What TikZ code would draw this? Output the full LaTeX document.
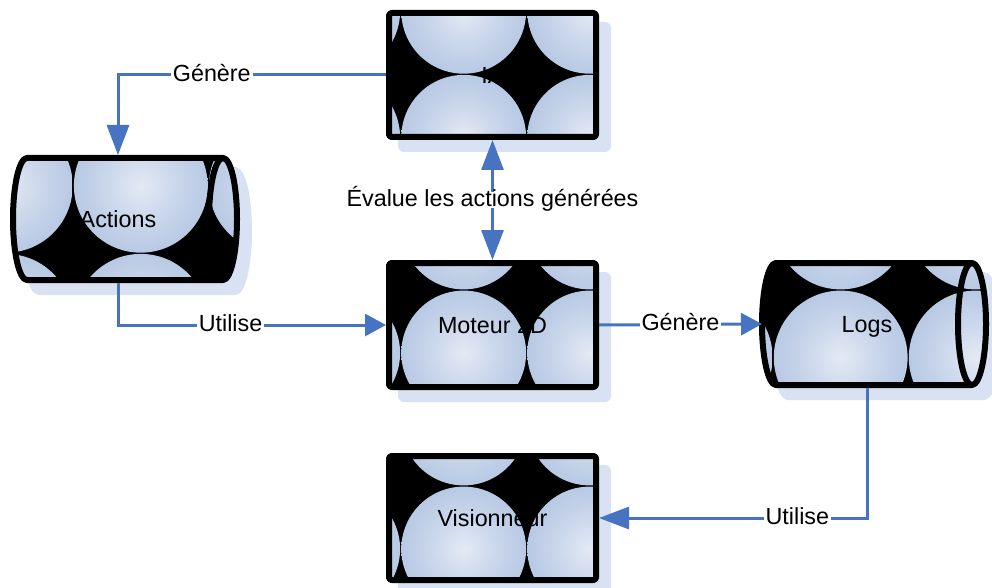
\documentclass[tikz,border=0pt]{standalone}
\usepackage{fontspec}
\setmainfont{Liberation Sans}
\usetikzlibrary{arrows.meta,backgrounds}

\definecolor{lienbleu}{RGB}{70,116,193}
\definecolor{ombrebleue}{RGB}{217,226,242}
\definecolor{bullecentre}{RGB}{228,234,245}
\definecolor{bullemilieu}{RGB}{204,216,236}
\definecolor{bullebord}{RGB}{184,201,228}
\pgfdeclareradialshading{bulle}{\pgfpoint{0bp}{0bp}}{color(0bp)=(bullecentre); color(12bp)=(bullemilieu); color(25bp)=(bullebord); color(50bp)=(bullebord)}

\tikzset{every picture/.style={line width=0.75pt}}

\begin{document}
\begin{tikzpicture}[x=0.75pt,y=0.75pt,yscale=-1,xscale=1,
  boite/.style={rectangle, inner sep=0pt, outer sep=0pt, minimum width=159.75pt, minimum height=97.5pt, text height=12.5pt, text depth=0pt, font=\fontsize{17.5}{21}\selectfont},
  tonneau/.style={boite, minimum width=157.5pt, minimum height=96pt},
  lien/.style={draw=lienbleu, line width=2.25pt, -{Triangle[length=22.5pt,width=16.5pt]}},
  lien court/.style={lien, -{Triangle[length=15.75pt,width=16.5pt]}},
  etiquette/.style={fill=white, inner sep=1.5pt, text height=9.1pt, text depth=0pt, font=\fontsize{17.5}{21}\selectfont},
  bord/.style={draw=black, line width=4.5pt, line join=round},
  ombre/.style={fill=ombrebleue, draw=ombrebleue, line width=4.5pt, line join=round}]
  \useasboundingbox (0,0) rectangle (992,588);

  % blocs
  \node[boite] (ia) at (492.5,75) {IA};
  \node[boite] (moteur) at (492.5,325) {Moteur 2D};
  \node[boite] (vision) at (492.5,518) {Visionneur};
  \node[tonneau] (actions) at (118,219) {Actions};
  \node[tonneau] (logs) at (867,324) {Logs};

  \begin{scope}[on background layer]
    % rectangles : ombre, texture de bulles, contour
    \foreach \n/\gx/\gy in {ia/34.2/-0.7, moteur/34.2/-35, vision/34.2/-32}{
      \begin{scope}[shift={(\n.center)}]
        \draw[ombre, rounded corners=2] (-91.5,-50) rectangle (115.5,74);
        \begin{scope}
          \clip (-103.5,-62) rectangle (103.5,62);
          \fill[black] (-110,-70) rectangle (110,70);
          \foreach \i in {-1.5,-0.5,0.5,1.5}
            \foreach \j in {-1.5,-0.5,0.5,1.5}
              \shade[shading=bulle] ({\gx+126*\i},{\gy+126*\j}) circle (62.4);
        \end{scope}
        \draw[bord, rounded corners=2] (-103.5,-62) rectangle (103.5,62);
      \end{scope}
    }
    % cylindres couches
    \foreach \n/\gx/\gy in {actions/-44.7/34.3, logs/41.2/-34}{
      \begin{scope}[shift={(\n.center)}]
        \draw[ombre] (-79,-49) -- (117,-49) arc[start angle=-90, end angle=90, x radius=14, y radius=61] -- (-79,73) arc[start angle=90, end angle=270, x radius=14, y radius=61] -- cycle;
        \begin{scope}
          \clip (-91,-61) -- (105,-61) arc[start angle=-90, end angle=90, x radius=14, y radius=61] -- (-91,61) arc[start angle=90, end angle=270, x radius=14, y radius=61] -- cycle;
          \fill[black] (-110,-70) rectangle (125,70);
          \foreach \i in {-1.5,-0.5,0.5,1.5}
            \foreach \j in {-1.5,-0.5,0.5,1.5}
              \shade[shading=bulle] ({\gx+135*\i},{\gy+135*\j}) circle (66.9);
        \end{scope}
        \draw[bord] (-91,-61) -- (105,-61) arc[start angle=-90, end angle=90, x radius=14, y radius=61] -- (-91,61) arc[start angle=90, end angle=270, x radius=14, y radius=61] -- cycle;
        \draw[bord] (105,-61) arc[start angle=-90, end angle=-270, x radius=14, y radius=61];
      \end{scope}
    }
  \end{scope}

  % liens
  \draw[lien] (ia.west) -- (ia.west -| actions.north) node[etiquette, pos=0.65] {Génère} -- (actions.north);
  \draw[lien, {Triangle[length=22.5pt,width=16.5pt]}-{Triangle[length=22.5pt,width=16.5pt]}] (moteur.north) -- (ia.south) node[etiquette, midway] {Évalue les actions générées};
  \draw[lien court] (actions.south) |- (moteur.west) node[etiquette, pos=0.71] {Utilise};
  \draw[lien court] (moteur.east) -- (logs.west) node[etiquette, midway] {Génère};
  \draw[lien] (logs.south) |- (vision.east) node[etiquette, pos=0.63] {Utilise};

\end{tikzpicture}
\end{document}
